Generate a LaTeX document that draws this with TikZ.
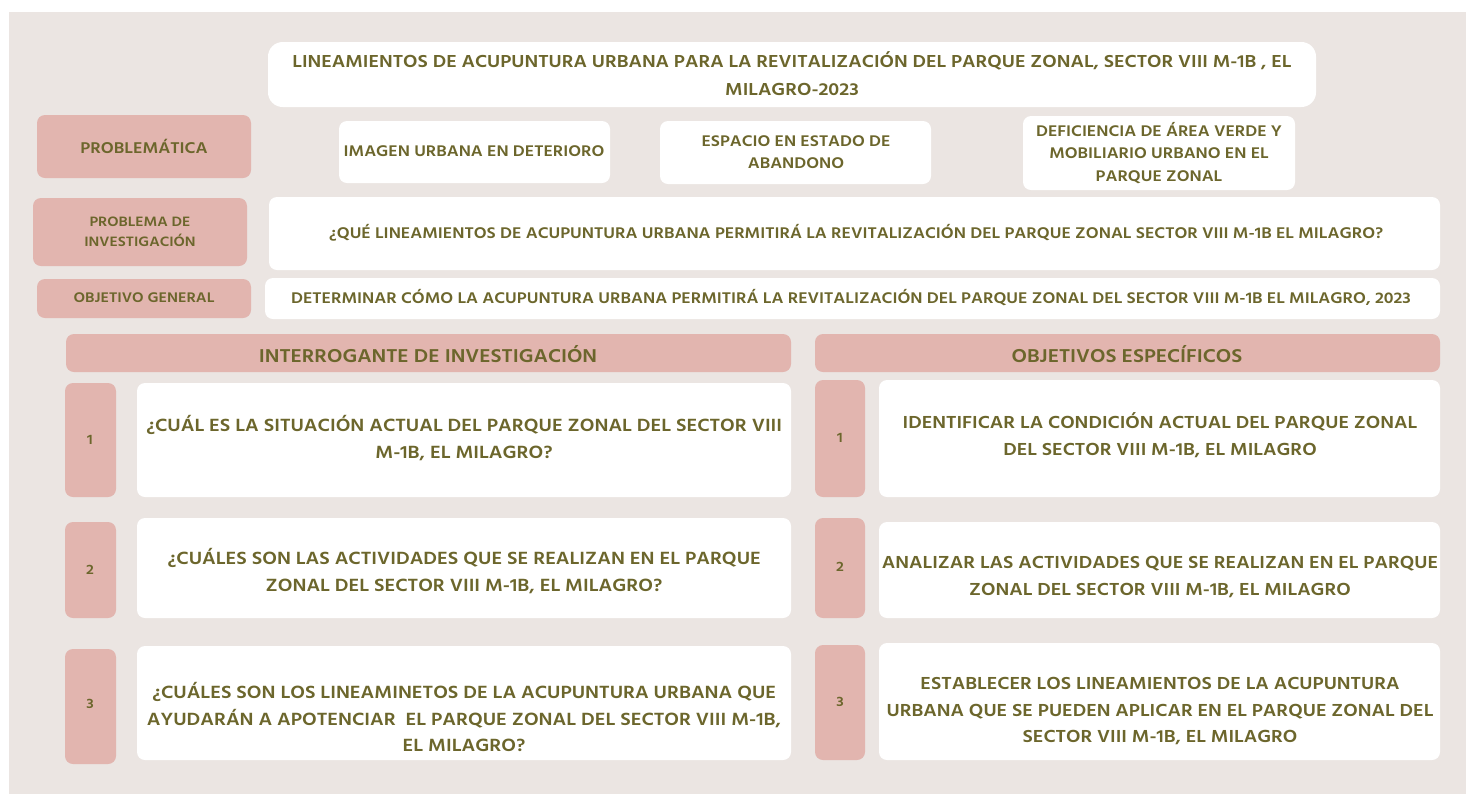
\documentclass[tikz,border=0pt]{standalone}
\usepackage{fontspec}
\setmainfont{Hind Siliguri}[FakeStretch=1.12]
\definecolor{bgc}{RGB}{235,229,226}
\definecolor{pinkc}{RGB}{226,181,175}
\definecolor{txtc}{RGB}{108,102,44}
\newcommand\bx[6]{\node[#6, minimum width={(#4-#2)*0.75pt}, minimum height={(#5-#3)*0.75pt}] (#1) at ({(#2+#4)/2},{(#3+#5)/2}) {};}
\newcommand\fsz[2]{\fontsize{#1pt}{#2pt}\selectfont\bfseries}
\begin{document}
\begin{tikzpicture}[x=0.75pt,y=-0.75pt,
  wbox/.style={fill=white, draw=none, rounded corners=6pt, inner sep=0pt, outer sep=0pt},
  pbox/.style={fill=pinkc, draw=none, rounded corners=6pt, inner sep=0pt, outer sep=0pt},
  txt/.style={text=txtc, align=center, inner sep=0pt}]
\useasboundingbox (0,0) rectangle (1466,794);
\fill[white] (0,0) rectangle (1466,794);
\fill[bgc] (9,12) rectangle (1466,794);
% boxes
\bx{title}{268}{42}{1316}{107}{wbox, rounded corners=11pt}
\bx{p0}{37}{115}{251}{178}{pbox}
\bx{p1}{339}{121}{610}{183}{wbox}
\bx{p2}{660}{121}{931}{184}{wbox}
\bx{p3}{1023}{116}{1295}{190}{wbox}
\bx{pi}{33}{198}{247}{266}{pbox}
\bx{q}{269}{197}{1440}{270}{wbox}
\bx{og}{37}{279}{251}{318}{pbox}
\bx{ogt}{265}{278}{1440}{319}{wbox}
\bx{h1}{66}{334}{791}{372}{pbox}
\bx{h2}{815}{334}{1440}{372}{pbox}
\bx{ln1}{65}{383}{116}{497}{pbox}
\bx{lq1}{137}{383}{791}{497}{wbox}
\bx{ln2}{65}{522}{116}{618}{pbox}
\bx{lq2}{137}{518}{791}{618}{wbox}
\bx{ln3}{65}{649}{116}{764}{pbox}
\bx{lq3}{137}{646}{791}{760}{wbox}
\bx{rn1}{815}{380}{865}{497}{pbox}
\bx{ro1}{879}{380}{1440}{497}{wbox}
\bx{rn2}{815}{518}{865}{618}{pbox}
\bx{ro2}{879}{522}{1440}{618}{wbox}
\bx{rn3}{815}{645}{865}{760}{pbox}
\bx{ro3}{879}{643}{1440}{760}{wbox}
% texts
\node[txt, font=\fsz{13.36}{21}] (t-title) at (792,74) {LINEAMIENTOS DE ACUPUNTURA URBANA PARA LA REVITALIZACIÓN DEL PARQUE ZONAL, SECTOR VIII M-1B , EL\\MILAGRO-2023};
\node[txt, font=\fsz{12}{17}] (t-p0) at (144,146) {PROBLEMÁTICA};
\node[txt, font=\fsz{11.86}{17}] (t-p1) at (474,151) {IMAGEN URBANA EN DETERIORO};
\node[txt, font=\fsz{11.86}{17}] (t-p2) at (796,152) {ESPACIO EN ESTADO DE\\ABANDONO};
\node[txt, font=\fsz{11.86}{17}] (t-p3) at (1159,153) {DEFICIENCIA DE ÁREA VERDE Y\\MOBILIARIO URBANO EN EL\\PARQUE ZONAL};
\node[txt, font=\fsz{10.45}{15}] (t-pi) at (140,232) {PROBLEMA DE\\INVESTIGACIÓN};
\node[txt, font=\fsz{11.9}{17}] (t-q) at (856,233) {¿QUÉ LINEAMIENTOS DE ACUPUNTURA URBANA PERMITIRÁ LA REVITALIZACIÓN DEL PARQUE ZONAL SECTOR VIII M-1B EL MILAGRO?};
\node[txt, font=\fsz{10.7}{15}] (t-og) at (144,298) {OBJETIVO GENERAL};
\node[txt, font=\fsz{11.9}{17}] (t-ogt) at (851,298) {DETERMINAR CÓMO LA ACUPUNTURA URBANA PERMITIRÁ LA REVITALIZACIÓN DEL PARQUE ZONAL DEL SECTOR VIII M-1B EL MILAGRO, 2023};
\node[txt, font=\fsz{14.3}{20}] (t-h1) at (428,354) {INTERROGANTE DE INVESTIGACIÓN};
\node[txt, font=\fsz{14.3}{20}] (t-h2) at (1127,354) {OBJETIVOS ESPECÍFICOS};
\node[txt, font=\fsz{10.5}{15}] (t-ln1) at (90,440) {1};
\node[txt, font=\fsz{10.5}{15}] (t-ln2) at (90,570) {2};
\node[txt, font=\fsz{10.5}{15}] (t-ln3) at (90,704) {3};
\node[txt, font=\fsz{10.5}{15}] (t-rn1) at (840,438) {1};
\node[txt, font=\fsz{10.5}{15}] (t-rn2) at (840,567) {2};
\node[txt, font=\fsz{10.5}{15}] (t-rn3) at (840,702) {3};
\node[txt, font=\fsz{13.6}{20}] (t-lq1) at (464,438) {¿CUÁL ES LA SITUACIÓN ACTUAL DEL PARQUE ZONAL DEL SECTOR VIII\\M-1B, EL MILAGRO?};
\node[txt, font=\fsz{13.6}{20}] (t-lq2) at (464,571) {¿CUÁLES SON LAS ACTIVIDADES QUE SE REALIZAN EN EL PARQUE\\ZONAL DEL SECTOR VIII M-1B, EL MILAGRO?};
\node[txt, font=\fsz{13.6}{20}] (t-lq3) at (464,717) {¿CUÁLES SON LOS LINEAMINETOS DE LA ACUPUNTURA URBANA QUE\\AYUDARÁN A APOTENCIAR\ \ EL PARQUE ZONAL DEL SECTOR VIII M-1B,\\EL MILAGRO?};
\node[txt, font=\fsz{13.4}{20}] (t-ro1) at (1160,435) {IDENTIFICAR LA CONDICIÓN ACTUAL DEL PARQUE ZONAL\\DEL SECTOR VIII M-1B, EL MILAGRO};
\node[txt, font=\fsz{13.4}{20}] (t-ro2) at (1160,577) {ANALIZAR LAS ACTIVIDADES QUE SE REALIZAN EN EL PARQUE\\ZONAL DEL SECTOR VIII M-1B, EL MILAGRO};
\node[txt, font=\fsz{13.4}{20}] (t-ro3) at (1160,711) {ESTABLECER LOS LINEAMIENTOS DE LA ACUPUNTURA\\URBANA QUE SE PUEDEN APLICAR EN EL PARQUE ZONAL DEL\\SECTOR VIII M-1B, EL MILAGRO};
\end{tikzpicture}
\end{document}
